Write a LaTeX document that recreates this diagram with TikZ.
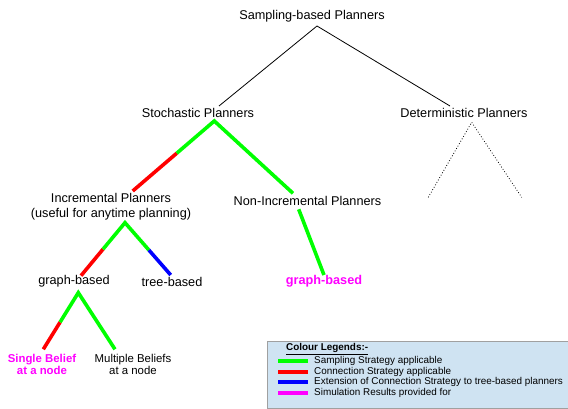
\documentclass[tikz,border=0pt]{standalone}
\usepackage{fontspec}
\setmainfont{Liberation Sans}
\usetikzlibrary{calc}

\definecolor{smpl}{RGB}{0,255,0}
\definecolor{conn}{RGB}{255,0,0}
\definecolor{extn}{RGB}{0,0,255}
\definecolor{simr}{RGB}{255,0,255}
\definecolor{keyfill}{RGB}{207,227,242}
\definecolor{keyedge}{RGB}{160,160,160}

\begin{document}
\begin{tikzpicture}[x=1pt,y=1pt,yscale=-1,xscale=1,
	lbl/.style={inner sep=0pt,align=center,font=\fontsize{12.7}{15.3}\selectfont},
	leaf/.style={inner sep=0pt,align=center,font=\fontsize{11.4}{12}\selectfont},
	thin/.style={line width=0.8pt},
	dots/.style={line width=0.8pt,dotted},
	fat/.style={line width=3.6pt,line join=miter},
	keyline/.style={line width=4pt}]
				\useasboundingbox (0,0) rectangle (568,409);

				% Text Node
				\node [lbl] (sbp) at (312,16) {Sampling-based Planners};
				% Text Node
				\node [lbl] (stp) at (198,112.5) {Stochastic Planners};
				% Text Node
				\node [lbl] (dtp) at (464,112.5) {Deterministic Planners};
				% Text Node
				\node [lbl] (inc) at (111,206.7) {Incremental Planners\\(useful for anytime planning)};
				% Text Node
				\node [lbl] (ninc) at (307.5,200.7) {Non-Incremental Planners};
				% Text Node
				\node [lbl] (igb) at (74,281.7) {graph-based};
				% Text Node
				\node [lbl] (itb) at (172,281.7) {tree-based};
				% Text Node
				\node [lbl,text=simr,font=\fontsize{12.7}{15.3}\selectfont\bfseries] (ngb) at (324,281) {graph-based};
				% Text Node
				\node [leaf,text=simr,font=\fontsize{11.4}{12}\selectfont\bfseries] (sgl) at (42,364.7) {Single Belief\\at a node};
				% Text Node
				\node [leaf] (mlt) at (133,364.7) {Multiple Beliefs\\at a node};

				% branch points
				\coordinate (sbpA) at (317,26);
				\coordinate (stpT) at (219,106);
				\coordinate (dtpT) at (450,106);
				\coordinate (stpA) at (214.3,121);
				\coordinate (incT) at (132.7,191);
				\coordinate (nincT) at (293,193.3);
				\coordinate (dtpA) at (471.7,122.3);
				\coordinate (dtpL) at (428.3,197.3);
				\coordinate (dtpR) at (521.7,197.3);
				\coordinate (incA) at (125,222.7);
				\coordinate (igbT) at (81,275.7);
				\coordinate (itbT) at (170.7,275);
				\coordinate (nincA) at (298.7,209.3);
				\coordinate (ngbT) at (324,275);
				\coordinate (igbA) at (78.3,292.7);
				\coordinate (sglT) at (43.3,349.3);
				\coordinate (mltT) at (115,349.3);

				%Straight Lines
				\draw [thin] (stpT) -- (sbpA) -- (dtpT);
				%Straight Lines
				\draw [dots] (dtpL) -- (dtpA) -- (dtpR);
				%Straight Lines
				\draw [fat,conn] ($(stpA)!0.46!(incT)$) -- (incT);
				\draw [fat,smpl] ($(stpA)!0.46!(incT)$) -- (stpA) -- (nincT);
				%Straight Lines
				\draw [fat,conn] ($(incA)!0.5!(igbT)$) -- (igbT);
				\draw [fat,extn] ($(incA)!0.52!(itbT)$) -- (itbT);
				\draw [fat,smpl] ($(incA)!0.5!(igbT)$) -- (incA) -- ($(incA)!0.52!(itbT)$);
				%Straight Lines
				\draw [fat,smpl] (nincA) -- (ngbT);
				%Straight Lines
				\draw [fat,conn] ($(igbA)!0.52!(sglT)$) -- (sglT);
				\draw [fat,smpl] ($(igbA)!0.52!(sglT)$) -- (igbA) -- (mltT);

				%Shape: Rectangle
				\fill [keyfill] (267.5,341) rectangle (568,408.5);
				\draw [keyedge,line width=0.8pt] (568,341) -- (267.5,341) -- (267.5,408.5) -- (568,408.5);
				% Text Node
				\node [anchor=west,inner sep=0pt,font=\fontsize{9.9}{11}\selectfont\bfseries] (keyhd) at (286,349.3) {\underline{Colour Legends:-}};
				\foreach \col/\txt [count=\i] in {smpl/Sampling Strategy applicable,conn/Connection Strategy applicable,extn/Extension of Connection Strategy to tree-based planners,simr/Simulation Results provided for}{
					\draw [keyline,\col] (278,{361+10.6*(\i-1)}) -- (308,{361+10.6*(\i-1)});
					\node [anchor=west,inner sep=0pt,font=\fontsize{9.9}{11}\selectfont] (key\i) at (314,{361+10.6*(\i-1)}) {\txt};
				}

		\end{tikzpicture}
\end{document}
